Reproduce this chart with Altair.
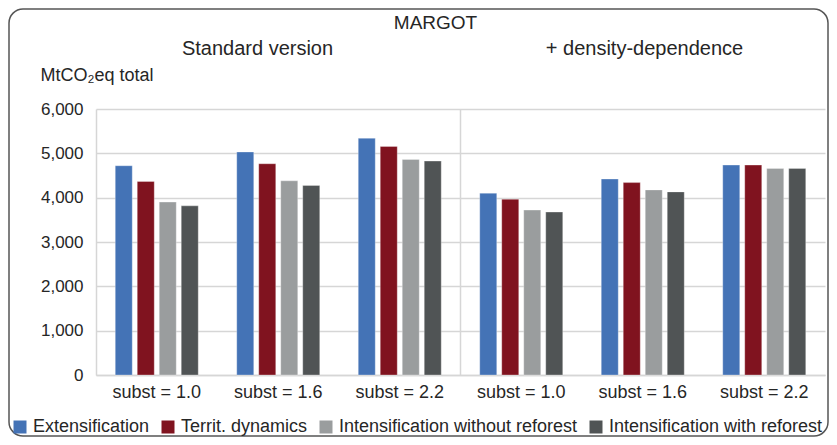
import altair as alt
import pandas as pd

# ---- data ----
groups = ["S1.0", "S1.6", "S2.2", "D1.0", "D1.6", "D2.2"]
series = ["Extensification", "Territ. dynamics",
          "Intensification without reforest", "Intensification with reforest"]
colors = ["#4473b6", "#80131f", "#9a9d9e", "#505455"]

extensification = [4720, 5030, 5340, 4100, 4420, 4735]
territ_dynamics = [4365, 4765, 5155, 3965, 4340, 4735]
intens_without = [3900, 4380, 4860, 3720, 4175, 4660]
intens_with = [3815, 4275, 4825, 3675, 4130, 4660]

y_ticks = [0, 1000, 2000, 3000, 4000, 5000, 6000]

main_title = "MARGOT"
left_title = "Standard version"
right_title = "+ density-dependence"
y_title = "MtCO₂eq total"

FONT = "Liberation Sans"
TXT = "#262626"
GRID = "#d6d6d6"

rows = []
for s, vals in zip(series, [extensification, territ_dynamics, intens_without, intens_with]):
    for g, v in zip(groups, vals):
        rows.append({"group": g, "series": s, "value": v})
df = pd.DataFrame(rows)


def xdef(**kw):
    return alt.X(
        "group:N", sort=groups,
        scale=alt.Scale(domain=groups, paddingInner=0, paddingOuter=0),
        axis=alt.Axis(title=None, labelExpr="'subst = ' + slice(datum.value, 1)",
                      labelAngle=0, ticks=False, labelPadding=8, labelFontSize=18,
                      labelFont=FONT, labelColor=TXT, domainColor=GRID, domainWidth=1.5,
                      grid=False),
        **kw)


bars = alt.Chart(df).mark_bar(stroke="#ffffff", strokeWidth=0.6, strokeOpacity=0.5).encode(
    x=xdef(),
    xOffset=alt.XOffset("series:N", sort=series,
                        scale=alt.Scale(domain=series, paddingInner=0.227, paddingOuter=0.875)),
    y=alt.Y("value:Q", scale=alt.Scale(domain=[0, 6000]),
            axis=alt.Axis(values=y_ticks, format=",d", title=y_title, titleAngle=0,
                          titleAlign="left", titleBaseline="alphabetic", titleX=-56, titleY=-29,
                          titleFontSize=18, titleFontWeight="normal", titleFont=FONT,
                          titleColor=TXT, ticks=False, labelPadding=13, labelFontSize=17,
                          labelFont=FONT, labelColor=TXT, grid=True, gridColor=GRID,
                          gridWidth=1.3, domainColor=GRID, domainWidth=1.5)),
    color=alt.Color("series:N", sort=series,
                    scale=alt.Scale(domain=series, range=colors),
                    legend=alt.Legend(orient="none", legendX=-85, legendY=309,
                                      direction="horizontal", title=None,
                                      symbolType="square", symbolSize=169,
                                      symbolStrokeWidth=0, labelFontSize=18,
                                      labelFont=FONT, labelColor=TXT, columnPadding=9,
                                      labelOffset=4, padding=0, labelLimit=400)),
)

divider = alt.Chart(pd.DataFrame({"group": ["D1.0"]})).mark_rule(
    color=GRID, strokeWidth=1.5).encode(
    x=xdef(bandPosition=0),
    y=alt.value(0), y2=alt.value(266),
)


def label(text, x, y, size):
    return alt.Chart(pd.DataFrame({"t": [text]})).mark_text(
        fontSize=size, font=FONT, color=TXT, align="center", baseline="alphabetic"
    ).encode(text="t:N", x=alt.value(x), y=alt.value(y))


border = alt.Chart(pd.DataFrame({"b": [0]})).mark_rect(
    fill="transparent", stroke="#555555", strokeWidth=1.5, cornerRadius=14
).encode(x=alt.value(-87), x2=alt.value(732), y=alt.value(-100), y2=alt.value(327))

chart = alt.layer(
    border, bars, divider,
    label(main_title, 339.5, -80, 19),
    label(left_title, 161.5, -54, 20),
    label(right_title, 548.5, -54, 20),
).properties(
    width=729, height=266,
    padding={"left": 88, "top": 101, "right": 4, "bottom": 62},
    autosize=alt.AutoSizeParams(type="none"),
).configure_view(strokeWidth=0)

chart.save("out.html", embed_options={"renderer": "svg", "actions": False})
